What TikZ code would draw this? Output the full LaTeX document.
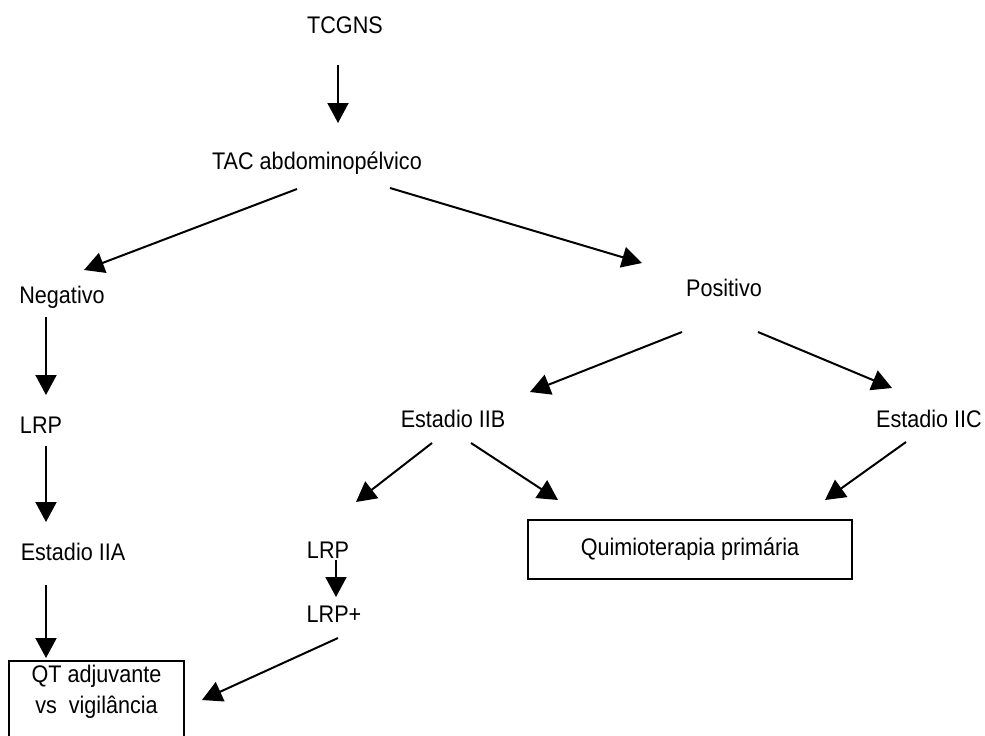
\documentclass[tikz,border=0pt]{standalone}
\usepackage{fontspec}
\setmainfont[FakeStretch=0.9]{Liberation Sans}
\usetikzlibrary{arrows.meta,calc}
\tikzset{
  lbl/.style={inner sep=0pt, text height=17.2pt, text depth=0pt, font=\fontsize{24}{28}\selectfont},
  boxnode/.style={draw, line width=1.5pt, inner sep=0pt, font=\fontsize{24}{28}\selectfont},
  arr/.style={line width=2pt, -{Triangle[length=20pt,width=21pt]}},
}
\begin{document}
\begin{tikzpicture}[x=1pt,y=-1pt]
\clip (0,0) rectangle (985,736);
\fill[white] (0,0) rectangle (985,736);

% nodes
\node[lbl] (tcgns) at (345,25) {TCGNS};
\node[lbl] (tac) at (317,161) {TAC abdominopélvico};
\node[lbl] (neg) at (62,295) {Negativo};
\node[lbl] (pos) at (724,288) {Positivo};
\node[lbl] (lrpa) at (41,425) {LRP};
\node[lbl] (iia) at (73,552) {Estadio IIA};
\node[lbl] (iib) at (453,419) {Estadio IIB};
\node[lbl] (iic) at (929,419) {Estadio IIC};
\node[lbl] (lrpb) at (328,550) {LRP};
\node[lbl] (lrpp) at (334,614) {LRP+};
\node[boxnode, minimum width=324pt, minimum height=59pt] (quimio) at (690,549.5) {Quimioterapia primária};
\node[boxnode, anchor=north, minimum width=175pt, inner ysep=4pt, align=center,
      font=\fontsize{24}{31}\selectfont] (qt) at (96.5,660)
      {QT adjuvante\\vs~ vigilância\rule[-30pt]{0pt}{0pt}};

% connectors
\draw[arr] ($(tcgns)+(-7,40)$) -- ($(tac)+(21,-38)$);
\draw[arr] ($(tac)+(-20,28)$) -- ($(neg)+(22,-25)$);
\draw[arr] ($(tac)+(73,27)$) -- ($(pos)+(-82,-25)$);
\draw[arr] ($(neg)+(-16,22)$) -- ($(lrpa)+(5,-30)$);
\draw[arr] ($(lrpa)+(5,21)$) -- ($(iia)+(-27,-30)$);
\draw[arr] ($(iia)+(-27,33)$) -- ($(qt.north)+(-50.5,-2)$);
\draw[arr] ($(pos)+(-42,44)$) -- ($(iib)+(77,-27)$);
\draw[arr] ($(pos)+(34,44)$) -- ($(iic)+(-37,-31)$);
\draw[arr] ($(iib)+(-21,24)$) -- ($(lrpb)+(28,-48)$);
\draw[arr] ($(iib)+(18,24)$) -- ($(quimio)+(-132,-49.5)$);
\draw[arr] ($(iic)+(-23,23)$) -- ($(quimio)+(135,-49.5)$);
\draw[arr] ($(lrpb)+(8,10)$) -- ($(lrpp)+(2,-17)$);
\draw[arr] ($(lrpp)+(4,24)$) -- ($(qt.north)+(105.5,40)$);
\end{tikzpicture}
\end{document}
